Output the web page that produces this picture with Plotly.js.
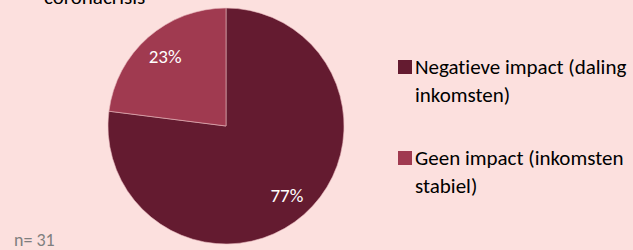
<!DOCTYPE html>
<html>
<head>
<meta charset="utf-8">
<script src="https://cdn.plot.ly/plotly-3.0.1.min.js"></script>
<style>html,body{margin:0;padding:0;background:#FCE0DE;}#chart{width:633px;height:250px;}
#chart text{font-variant-ligatures:none;font-feature-settings:"liga" 0;}</style>
</head>
<body>
<div id="chart"></div>
<script>
// Data
const categories = ["Negatieve impact (daling inkomsten)", "Geen impact (inkomsten stabiel)"];
const legendLines = [["Negatieve impact (daling", "inkomsten)"], ["Geen impact (inkomsten", "stabiel)"]];
const values = [77, 23];
const colors = ["#641B30", "#A03A50"];
const titleTail = "coronacrisis";
const sampleNote = "n= 31";

const W = 633, H = 250;
const px = x => x / W;
const py = y => 1 - y / H;
const FONT = "Carlito, Lato, 'Open Sans', sans-serif";

// pie geometry (pixels)
const cx = 226, cy = 126, R = 118;
const domain = {x: [px(cx - R), px(cx + R)], y: [py(cy + R), py(cy - R)]};

const pie = {
  type: "pie", labels: categories, values: values, sort: false,
  direction: "clockwise", rotation: 0, domain: domain,
  marker: {colors: colors, line: {color: "#E8B8BE", width: 0.6}},
  textinfo: "none", hoverinfo: "label+percent", showlegend: false
};
// transparent ring overlay so percentage labels sit at ~0.78 R like the original
const labelsRing = {
  type: "pie", labels: categories, values: values, sort: false,
  direction: "clockwise", rotation: 0, domain: domain, hole: 0.56,
  marker: {colors: ["rgba(0,0,0,0)", "rgba(0,0,0,0)"], line: {width: 0}},
  textinfo: "percent", texttemplate: "%{percent:.0%}", textposition: "inside",
  insidetextorientation: "horizontal",
  textfont: {family: FONT, size: 19, color: "#FFFFFF"},
  hoverinfo: "skip", showlegend: false
};

const annotations = [];
const shapes = [];
// title remnant (cut off at top, as in the original)
annotations.push({text: titleTail, xref: "paper", yref: "paper", x: px(42), y: py(-3),
  xanchor: "left", yanchor: "middle", showarrow: false,
  font: {family: FONT, size: 21, color: "#000000"}});
// n note
annotations.push({text: sampleNote, xref: "paper", yref: "paper", x: px(12), y: py(240),
  xanchor: "left", yanchor: "middle", showarrow: false,
  font: {family: FONT, size: 18, color: "#7F7F7F"}});
// legend
const legendTop = [67, 158];
const lineGap = 28;
legendLines.forEach((lines, i) => {
  const y0 = legendTop[i];
  shapes.push({type: "rect", xref: "paper", yref: "paper",
    x0: px(398), x1: px(412), y0: py(y0 - 7), y1: py(y0 + 7),
    fillcolor: colors[i], line: {width: 0}});
  lines.forEach((t, j) => {
    annotations.push({text: t, xref: "paper", yref: "paper", x: px(413), y: py(y0 + j * lineGap),
      xanchor: "left", yanchor: "middle", showarrow: false,
      font: {family: FONT, size: 21, color: "#000000"}});
  });
});

const layout = {
  width: W, height: H, margin: {l: 0, r: 0, t: 0, b: 0},
  paper_bgcolor: "#FCE0DE", plot_bgcolor: "#FCE0DE",
  showlegend: false, annotations: annotations, shapes: shapes,
  font: {family: FONT}
};
Plotly.newPlot("chart", [pie, labelsRing], layout, {displayModeBar: false, staticPlot: true});
</script>
</body>
</html>
